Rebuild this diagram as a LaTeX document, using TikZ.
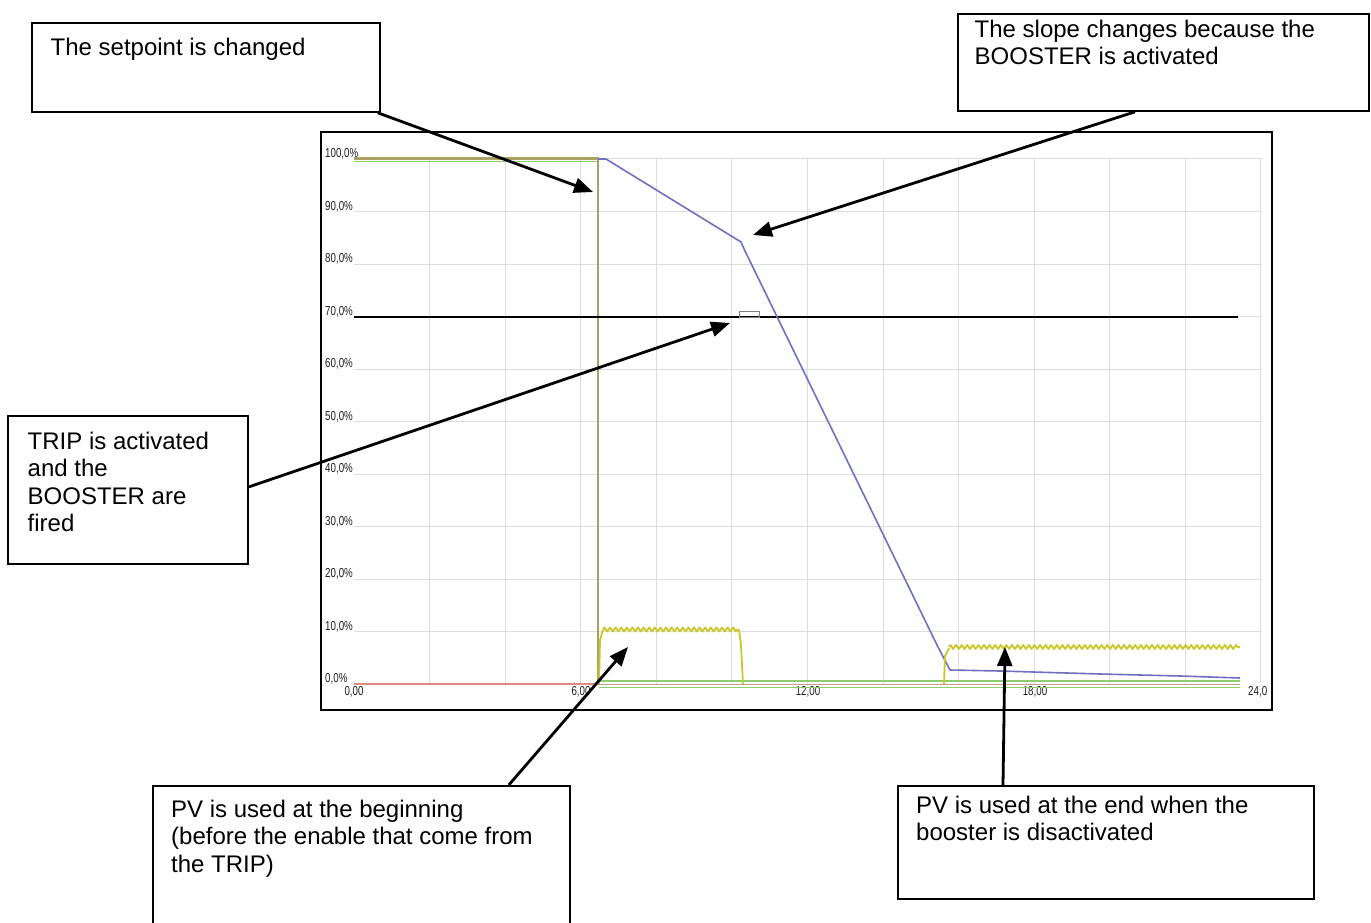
\documentclass[tikz,border=0pt]{standalone}
\usepackage{fontspec}
\usepackage{graphicx}
\setmainfont{Liberation Sans}
\usetikzlibrary{arrows.meta,calc,decorations.pathmorphing}
\definecolor{gridgray}{RGB}{220,220,220}
\definecolor{olivel}{RGB}{170,160,100}
\definecolor{setgreen}{RGB}{140,205,110}
\definecolor{pinkl}{RGB}{222,140,130}
\definecolor{tanl}{RGB}{190,160,130}
\definecolor{pvblue}{RGB}{112,112,192}
\definecolor{yel}{RGB}{200,200,40}
\definecolor{axtext}{RGB}{30,30,30}
\newcommand\axfont{\fontsize{13}{13}\selectfont}
\begin{document}
\begin{tikzpicture}[x=1pt,y=-1pt,
  box/.style={draw=black,line width=1.8pt,inner sep=0pt,anchor=north west},
  txt/.style={anchor=north west,inner sep=0pt,align=left,font=\fontsize{24}{27.5}\selectfont},
  callout/.style={line width=2.8pt,-{Triangle[length=19pt,width=15pt]}},
  gridl/.style={draw=gridgray,line width=1pt},
  axlab/.style={inner sep=0pt,text=axtext,font=\axfont},
  zig/.style={decorate,decoration={zigzag,segment length=5.6pt,amplitude=2pt}},
  yline/.style={draw=yel,line width=1.8pt,line join=round}
]
\useasboundingbox (0,0) rectangle (1371,923);
\fill[white] (0,0) rectangle (1371,923);

% chart frame
\draw[line width=1.8pt] (321,132) rectangle (1272,710);

% grid
\foreach \k in {1,...,12} {
  \draw[gridl] ({354+\k*75.58},159) -- ({354+\k*75.58},684);
}
\foreach \p in {10,20,...,100} {
  \draw[gridl] (354,{684-5.25*\p}) -- (1262,{684-5.25*\p});
}

% y labels
\foreach \p in {0,10,...,100} {
  \node[axlab,anchor=base west] (yl\p) at (325,{684-5.25*\p-1.5}) {\scalebox{0.75}[1]{\p,0\%}};
}
% x labels
\node[axlab,anchor=base] (xl0) at (354,695) {\scalebox{0.75}[1]{0,00}};
\node[axlab,anchor=base] (xl6) at (581,695) {\scalebox{0.75}[1]{6,00}};
\node[axlab,anchor=base] (xl12) at (808,695) {\scalebox{0.75}[1]{12,00}};
\node[axlab,anchor=base] (xl18) at (1035,695) {\scalebox{0.75}[1]{18,00}};
\node[axlab,anchor=base west] (xl24) at (1248,695) {\scalebox{0.75}[1]{24,0}};

% bottom traces
\draw[pinkl,line width=1.5pt] (354,684) -- (599,684);
\draw[tanl,line width=1.5pt] (599,684.5) -- (1240,684.5);
\draw[setgreen,line width=1.2pt] (599,681) -- (1240,681);
\draw[setgreen,line width=1pt] (599,687) -- (1240,687);

% setpoint traces
\draw[olivel,line width=3.5pt] (354,158.5) -- (598,158.5);
\draw[setgreen,line width=1.2pt] (354,161.8) -- (598,161.8);
\draw[olivel,line width=2pt] (598,157) -- (598,684);

% 70% line
\draw[black,line width=1.2pt] (354,317) -- (1238,317);
\draw[gray,line width=0.9pt] (739,317) rectangle (759,311);

% PV blue trace
\draw[pvblue,line width=1.6pt,line join=round] (598,159) -- (606,159) -- (741,242) -- (745,251) -- (937,645) -- (950,670) -- (1000,671) -- (1100,674) -- (1180,676) -- (1240,678);

% yellow traces
\draw[yline] (599,684) -- (600,640) -- (603,630);
\draw[yline,zig] (603,629.5) -- (739,629.5);
\draw[yline] (739,630) -- (741,645) -- (743,684);
\draw[yline] (944,684) -- (945,656) -- (949,648);
\draw[yline,zig] (949,647) -- (1240,647);

% callout boxes
\node[box,minimum width=348pt,minimum height=89pt] (b1) at (31,22) {};
\node[txt] (t1) at (50.5,35.75) {\strut The setpoint is changed};
\node[box,minimum width=411pt,minimum height=97pt] (b2) at (957,13) {};
\node[txt] (t2) at (974.5,17.75) {\strut The slope changes because the\\BOOSTER is activated};
\node[box,minimum width=240pt,minimum height=148pt] (b3) at (7,415) {};
\node[txt] (t3) at (27.5,429.75) {\strut TRIP is activated\\and the\\BOOSTER are\\fired};
\node[box,minimum width=417pt,minimum height=145pt] (b4) at (152,785) {};
\node[txt] (t4) at (171,797.75) {\strut PV is used at the beginning\\(before the enable that come from\\the TRIP)};
\node[box,minimum width=416pt,minimum height=113pt] (b5) at (897,785) {};
\node[txt] (t5) at (916,793.75) {\strut PV is used at the end when the\\booster is disactivated};

% arrow targets
\coordinate (p1) at (593,192);
\coordinate (p2) at (753,235);
\coordinate (p3) at (730,323);
\coordinate (p4) at (628,647);
\coordinate (p5) at (1005,647);

\draw[callout] ($(b1.south east)+(-3,0)$) -- (p1);
\draw[callout] ($(b2.south west)+(178,0)$) -- (p2);
\draw[callout] ($(b3.east)+(0,-3)$) -- (p3);
\draw[callout] ($(b4.north east)+(-62,0)$) -- (p4);
\draw[callout] ($(b5.north west)+(106,0)$) -- (p5);
\end{tikzpicture}
\end{document}
